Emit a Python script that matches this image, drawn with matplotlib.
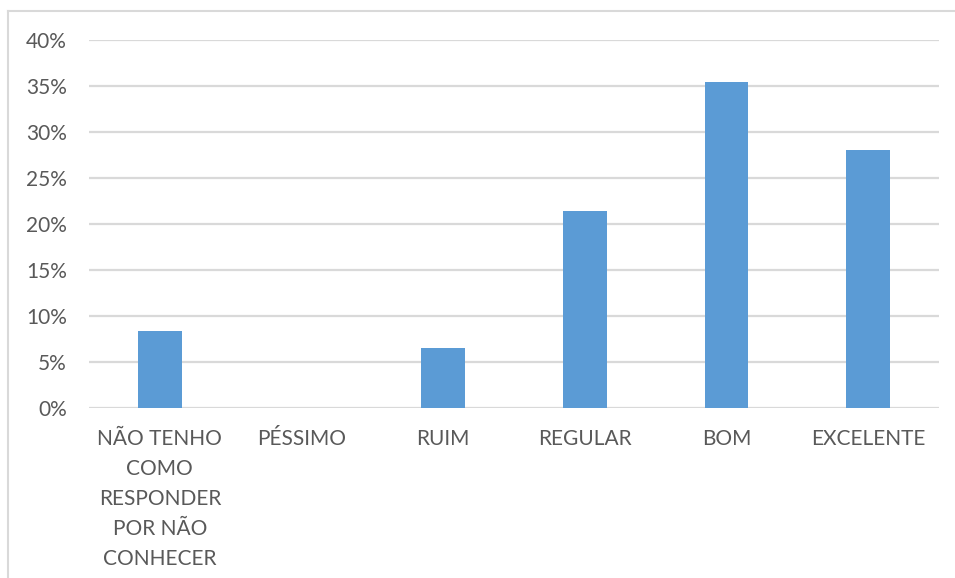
import matplotlib.pyplot as plt
from matplotlib.lines import Line2D

categories = ['NÃO TENHO\nCOMO\nRESPONDER\nPOR NÃO\nCONHECER', 'PÉSSIMO', 'RUIM',
              'REGULAR', 'BOM', 'EXCELENTE']
values = [8.4, 0.0, 6.5, 21.4, 35.4, 28.0]
yticks = [0, 5, 10, 15, 20, 25, 30, 35, 40]

W, H = 955, 578
fig = plt.figure(figsize=(W / 100, H / 100), dpi=100)
ax = fig.add_axes([89 / W, 1 - 408 / H, (939 - 89) / W, (408 - 40) / H])

txt = '#595959'
grid = '#d9d9d9'

x = range(len(categories))
ax.bar(x, values, width=0.31, color='#5b9bd5', zorder=3)

ax.set_ylim(0, 40)
ax.set_xlim(-0.5, len(categories) - 0.5)
ax.set_yticks(yticks)
ax.set_yticklabels([f'{v}%' for v in yticks])
ax.set_xticks(list(x))
ax.set_xticklabels(categories, linespacing=1.63)

for s in ax.spines.values():
    s.set_visible(False)
ax.grid(axis='y', color=grid, linewidth=1.6, zorder=0)
ax.tick_params(axis='both', length=0, colors=txt, labelsize=15)
ax.tick_params(axis='y', pad=16)
ax.tick_params(axis='x', pad=15)
for lbl in ax.get_xticklabels() + ax.get_yticklabels():
    lbl.set_fontfamily('Lato')
    lbl.set_color(txt)

# chart frame (cropped at the right and bottom)
fig.add_artist(Line2D([8 / W, 8 / W], [0, 1 - 11 / H], color=grid, lw=1.5))
fig.add_artist(Line2D([8 / W, 1], [1 - 11 / H, 1 - 11 / H], color=grid, lw=1.5))

fig.savefig('out.png', dpi=100)
